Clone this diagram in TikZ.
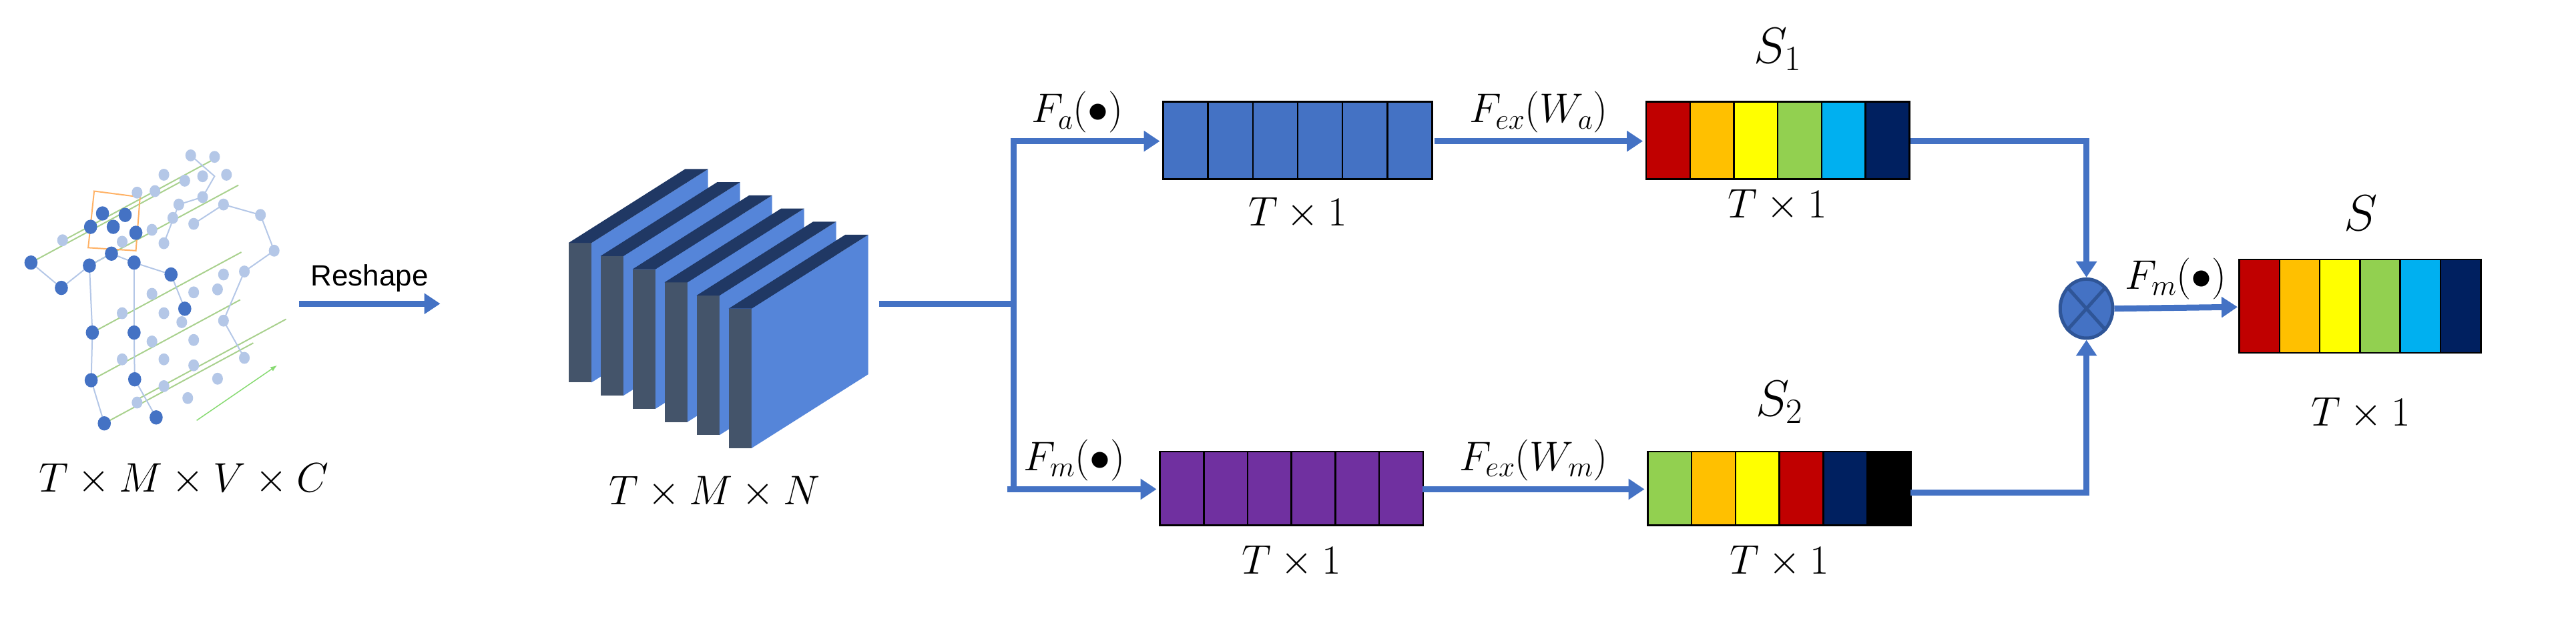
\RequirePackage{fix-cm}
\documentclass[tikz,border=0pt]{standalone}
\usepackage{fontspec}
\newfontfamily\arial{Liberation Sans}
\usetikzlibrary{arrows.meta,shapes.geometric}
\definecolor{ablue}{HTML}{4472C4}
\definecolor{dblue}{HTML}{2F5597}
\definecolor{c1}{HTML}{C00000}\definecolor{c2}{HTML}{FFC000}\definecolor{c3}{HTML}{FFFF00}
\definecolor{c4}{HTML}{92D050}\definecolor{c5}{HTML}{00B0F0}\definecolor{c6}{HTML}{002060}
\definecolor{pur}{HTML}{7030A0}
\definecolor{slabtop}{HTML}{203864}\definecolor{slabside}{HTML}{44546A}\definecolor{slabfront}{HTML}{5585D9}
\definecolor{lightdot}{HTML}{B4C7E7}\definecolor{gline}{HTML}{A9D18E}
\begin{document}
\begin{tikzpicture}[x=2.461pt,y=-2.461pt,
  txt/.style={font=\fontsize{62}{66}\selectfont,inner sep=0pt,text=black},
  big/.style={font=\fontsize{76}{80}\selectfont,inner sep=0pt,text=black},
  arr/.style={ablue,line width=9pt,-{Triangle[length=24pt,width=30pt]}},
  ln/.style={ablue,line width=9pt},
  cell/.style={draw=black,line width=2.5pt}]
\useasboundingbox (0,0) rectangle (1568,375.45);
% graph image
\begin{scope}[x=0.3628*2.461pt,y=-0.1814*2.461pt,yshift=-62*2.461pt]
\foreach \a/\b in {175/1080,153/935,155/775,150/550,52/540,107/465,230/1000}
  \draw[gline,line width=2pt] (\a,\b) -- ++(250,-270);
\draw[gline!80!green,line width=1.5pt,-{Latex[length=10pt]}] (330,1070) -- (465,885);
\draw[lightdot,line width=2pt] (52,540)--(103,625)--(150,550)--(155,775)--(153,935)--(175,1080);
\draw[lightdot,line width=2pt] (225,540)--(225,775)--(226,932)--(262,1060);
\draw[lightdot,line width=2pt] (150,550)--(187,510)--(225,540)--(287,580)--(310,695);
\draw[lightdot,line width=2pt] (325,410)--(375,345)--(437,380)--(460,500)--(410,570)--(375,735)--(410,860);
\draw[lightdot,line width=2pt] (275,475)--(300,345)--(340,320)--(360,250)--(320,180);
\draw[draw=orange!60,line width=2pt] (158,300)--(235,320)--(228,500)--(148,490)--cycle;
\foreach \p in {(105,465),(205,470),(255,430),(275,475),(300,345),(340,320),(325,410),(375,345),(437,380),(460,500),(410,570),(375,580),(365,630),(325,640),(255,645),(205,710),(275,710),(305,740),(375,735),(255,805),(325,800),(205,865),(275,865),(325,885),(410,860),(365,930),(275,955),(230,1010),(315,995),(290,390),(340,250),(360,185),(320,180),(275,245),(310,265),(380,245),(260,300),(230,305)}
  \fill[lightdot] \p ellipse (9 and 20);
\foreach \p in {(52,540),(103,625),(150,550),(187,510),(225,540),(287,580),(310,695),(155,775),(225,775),(153,935),(226,932),(175,1080),(262,1060),(172,375),(210,380),(152,420),(190,420),(228,440)}
  \fill[ablue] \p ellipse (11 and 24);
\end{scope}
\node[txt] (lab0) at (112,292) {$T\times M\times V\times C$};
% stack
\foreach \i in {0,...,5}{
  \begin{scope}[shift={(346+19.5*\i,148+8*\i)}]
    \fill[slabside] (0,0) rectangle (14,85);
    \fill[slabfront] (14,0) -- (85,-45) -- (85,40) -- (14,85) -- cycle;
    \fill[slabtop] (0,0) -- (71,-45) -- (85,-45) -- (14,0) -- cycle;
  \end{scope}}
\node[txt] (lab1) at (435,300) {$T\times M\times N$};
\draw[arr] (182,185) -- node[above=10pt,text=black,font=\arial\fontsize{44}{48}\selectfont] {Reshape} (268,185);
% branches
\draw[ln] (535,185) -- (617,185);
\draw[ln] (617,85.5) -- (617,298);
% top branch
\foreach \k in {0,...,5}\draw[cell,fill=ablue] (708+27.3*\k,62) rectangle ++(27.3,47);
\draw[arr] (615,86) -- node[txt,above=8pt,pos=0.45] {$F_a(\bullet)$} (706,86);
\node[txt] at (790,130) {$T\times1$};
\foreach \k/\c in {0/c1,1/c2,2/c3,3/c4,4/c5,5/c6}\draw[cell,fill=\c] (1002+26.7*\k,62) rectangle ++(26.7,47);
\draw[arr] (873,86) -- node[txt,above=8pt] {$F_{ex}(W_a)$} (1000,86);
\node[big] at (1082,30) {$S_1$};
\node[txt] at (1082,125) {$T\times1$};
% bottom branch
\foreach \k in {0,...,5}\draw[cell,fill=pur] (706+26.7*\k,275) rectangle ++(26.7,45);
\draw[arr] (613,298) -- node[txt,above=8pt,pos=0.45] {$F_m(\bullet)$} (704,298);
\node[txt] at (786,342) {$T\times1$};
\foreach \k/\c in {0/c4,1/c2,2/c3,3/c1,4/c6,5/black}\draw[cell,fill=\c] (1003+26.7*\k,275) rectangle ++(26.7,45);
\draw[arr] (866,298) -- node[txt,above=8pt] {$F_{ex}(W_m)$} (1001,298);
\node[big] at (1083,245) {$S_2$};
\node[txt] at (1083,342) {$T\times1$};
% merge
\node[ellipse,draw=dblue,line width=5pt,fill=ablue,minimum width=32*2.461pt,minimum height=36*2.461pt,inner sep=0pt] (m) at (1270,188) {};
\draw[dblue,line width=5pt] (m.north west)--(m.south east) (m.north east)--(m.south west);
\draw[arr] (1163,86) -| (m.north);
\draw[arr] (1163,300) -| (m.south);
\foreach \k/\c in {0/c1,1/c2,2/c3,3/c4,4/c5,5/c6}\draw[cell,fill=\c] (1363+24.5*\k,158) rectangle ++(24.5,57);
\draw[arr] (m.east) -- node[txt,above=8pt] {$F_m(\bullet)$} (1362,187);
\node[big] at (1437,130) {$S$};
\node[txt] at (1437,252) {$T\times1$};
\end{tikzpicture}
\end{document}
